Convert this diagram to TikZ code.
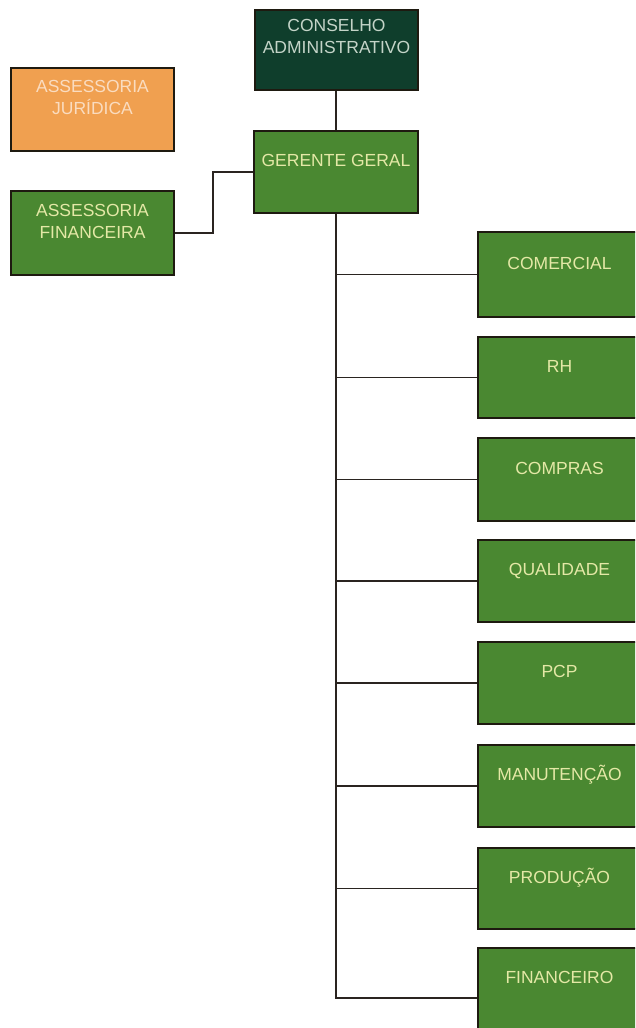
\documentclass[tikz,border=0pt]{standalone}
\usepackage{fontspec}
\setmainfont{Liberation Sans}
\definecolor{dkgreen}{HTML}{0F3E2C}
\definecolor{boxgreen}{HTML}{4A8831}
\definecolor{boxorange}{HTML}{F0A050}
\definecolor{edgecol}{HTML}{1E1A10}
\definecolor{txtgreen}{HTML}{E4E8A6}
\definecolor{txtdark}{HTML}{C4D4C8}
\definecolor{txtorange}{HTML}{FADCC0}
\definecolor{linecol}{HTML}{2A2420}
\tikzset{
  orgbox/.style={draw=edgecol, line width=1.6pt, inner sep=0pt, minimum width=163pt},
  greenbox/.style={orgbox, fill=boxgreen},
  txt/.style={inner sep=0pt, font=\fontsize{17.5}{22}\selectfont, align=center},
  txtone/.style={txt, text height=12.5pt, text depth=0pt},
  conn/.style={draw=linecol, line width=1.5pt}
}
\begin{document}
\begin{tikzpicture}[x=1pt,y=-1pt]
\useasboundingbox (0,0) rectangle (635,1028);
\clip (0,0) rectangle (635,1028);
\fill[white] (0,0) rectangle (635,1028);
% boxes
\node[orgbox, fill=dkgreen, minimum height=80pt] (cons) at (336.5,50) {};
\node[orgbox, fill=boxorange, minimum height=83pt] (jur) at (92.5,109.5) {};
\node[greenbox, minimum width=164pt, minimum height=82pt] (ger) at (336,172) {};
\node[greenbox, minimum height=84pt] (afin) at (92.5,233) {};
\node[greenbox, minimum height=85pt] (com) at (559.5,274.5) {};
\node[greenbox, minimum height=81pt] (rh) at (559.5,377.5) {};
\node[greenbox, minimum height=83pt] (compras) at (559.5,479.5) {};
\node[greenbox, minimum height=82pt] (qual) at (559.5,581) {};
\node[greenbox, minimum height=82pt] (pcp) at (559.5,683) {};
\node[greenbox, minimum height=82pt] (man) at (559.5,786) {};
\node[greenbox, minimum height=81pt] (prod) at (559.5,888.5) {};
\node[greenbox, minimum height=82pt] (finan) at (559.5,989) {};
% texts
\node[txt, text=txtdark] (consT) at ([yshift=14pt]cons.center) {CONSELHO\\ADMINISTRATIVO};
\node[txt, text=txtorange] (jurT) at ([yshift=12pt]jur.center) {ASSESSORIA\\JURÍDICA};
\node[txtone, text=txtgreen] (gerT) at ([yshift=12pt]ger.center) {GERENTE GERAL};
\node[txt, text=txtgreen] (afinT) at ([yshift=12pt]afin.center) {ASSESSORIA\\FINANCEIRA};
\node[txtone, text=txtgreen] (comT) at ([yshift=11.5pt]com.center) {COMERCIAL};
\node[txtone, text=txtgreen] (rhT) at ([yshift=11.5pt]rh.center) {RH};
\node[txtone, text=txtgreen] (comprasT) at ([yshift=11.5pt]compras.center) {COMPRAS};
\node[txtone, text=txtgreen] (qualT) at ([yshift=11.5pt]qual.center) {QUALIDADE};
\node[txtone, text=txtgreen] (pcpT) at ([yshift=11.5pt]pcp.center) {PCP};
\node[txtone, text=txtgreen] (manT) at ([yshift=11.5pt]man.center) {MANUTENÇÃO};
\node[txtone, text=txtgreen] (prodT) at ([yshift=11.5pt]prod.center) {PRODUÇÃO};
\node[txtone, text=txtgreen] (finanT) at ([yshift=11.5pt]finan.center) {FINANCEIRO};
% connectors
\coordinate (fy) at (336,998);
\draw[conn] (cons.south -| ger.north) -- (ger.north);
\draw[conn] (ger.west) -- ++(-40,0) |- (afin.east);
\draw[conn] (ger.south) -- (fy) -- (fy -| finan.west);
\foreach \b in {com,rh,compras,qual,pcp,man,prod}{
  \draw[conn] (ger.south) |- (\b.west);
}
\end{tikzpicture}
\end{document}
